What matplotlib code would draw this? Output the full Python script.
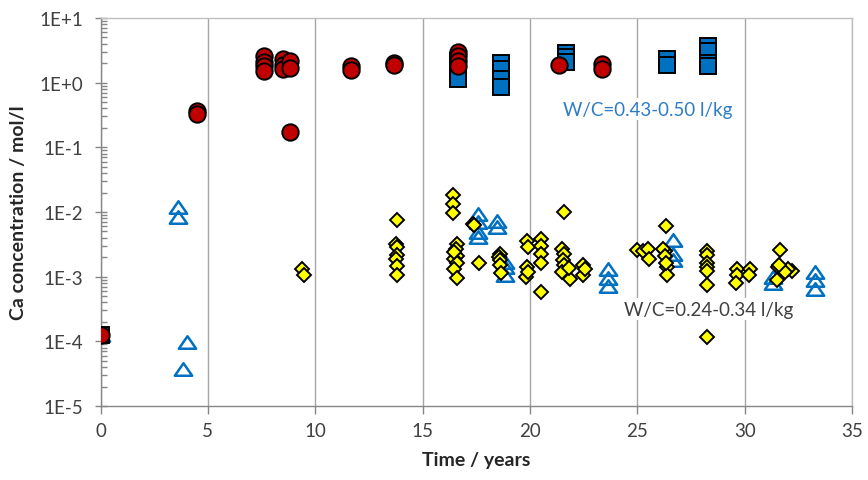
import matplotlib
matplotlib.use("Agg")
import matplotlib.pyplot as plt
from matplotlib.path import Path
from matplotlib.ticker import FixedLocator, LogLocator, NullFormatter

plt.rcParams['font.family'] = ['Lato', 'DejaVu Sans']

# W/C = 0.43-0.50 l/kg : red circles
circ_t = [0, 4.49, 4.49, 7.62, 7.62, 7.62, 7.62, 8.5, 8.5, 8.5, 8.83, 8.83, 8.83,
          11.67, 11.67, 13.66, 13.66, 16.65, 16.65, 16.65, 16.65, 21.35, 23.34, 23.34]
circ_c = [1.25e-4, 0.37, 0.33, 2.6, 2.1, 1.8, 1.5, 2.3, 1.9, 1.6, 2.2, 1.7, 0.173,
          1.8, 1.57, 2.0, 1.87, 3.0, 2.6, 2.2, 1.8, 1.9, 1.95, 1.6]

# W/C = 0.43-0.50 l/kg : blue squares
sq_t = [0, 16.65, 16.65, 16.65, 18.65, 18.65, 18.65, 18.65, 21.67, 21.67, 21.67,
        26.4, 26.4, 28.3, 28.3, 28.3, 28.3]
sq_c = [1.25e-4, 2.2, 1.5, 1.15, 2.05, 1.6, 1.15, 0.87, 2.9, 2.5, 2.1,
        2.3, 1.9, 3.7, 3.1, 2.05, 1.8]

# W/C = 0.24-0.34 l/kg : yellow diamonds
dia_t = [0, 9.37, 9.48,
         13.8, 13.75, 13.8, 13.8, 13.75, 13.8, 13.8,
         16.42, 16.42, 16.42,
         16.6, 16.55, 16.6, 16.45, 16.6, 16.45, 16.6, 16.45,
         17.33, 17.4, 17.64,
         18.6, 18.55, 18.6, 18.6, 18.65,
         19.85, 19.9, 19.85, 19.8, 19.9,
         20.5, 20.5, 20.5, 20.5, 20.5,
         21.6,
         21.5, 21.6, 21.55, 21.6, 21.5, 21.87, 21.8,
         22.49, 22.49, 22.57,
         24.97, 25.27, 25.5, 25.56,
         26.34, 26.3, 26.2, 26.3, 26.37, 26.37, 26.35,
         28.23, 28.23, 28.23, 28.23, 28.23, 28.23, 28.23,
         29.63, 29.63, 29.6,
         30.25, 30.2,
         31.65, 31.55, 31.5, 32.2, 32.04, 31.9, 31.6]
dia_c = [1.25e-4, 1.31e-3, 1.06e-3,
         7.5e-3, 3.2e-3, 2.9e-3, 2.2e-3, 1.85e-3, 1.48e-3, 1.06e-3,
         0.0183, 0.0133, 9.5e-3,
         3.2e-3, 2.7e-3, 2.1e-3, 1.85e-3, 1.6e-3, 1.3e-3, 9.5e-4, 2.4e-3,
         6.5e-3, 6.2e-3, 1.6e-3,
         2.25e-3, 2.0e-3, 1.8e-3, 1.5e-3, 1.16e-3,
         3.6e-3, 2.9e-3, 1.4e-3, 9.8e-4, 1.2e-3,
         3.8e-3, 3.0e-3, 2.25e-3, 1.6e-3, 5.9e-4,
         9.9e-3,
         2.7e-3, 2.25e-3, 1.8e-3, 1.5e-3, 1.2e-3, 9.2e-4, 1.35e-3,
         1.5e-3, 1.06e-3, 1.3e-3,
         2.6e-3, 2.5e-3, 2.7e-3, 1.85e-3,
         6.15e-3, 2.5e-3, 2.7e-3, 2.1e-3, 1.4e-3, 1.05e-3, 1.6e-3,
         2.5e-3, 2.2e-3, 1.6e-3, 1.4e-3, 1.23e-3, 7.4e-4, 1.17e-4,
         1.3e-3, 1.05e-3, 8.0e-4,
         1.3e-3, 1.05e-3,
         2.6e-3, 1.4e-3, 8.9e-4, 1.23e-3, 1.3e-3, 1.2e-3, 1.5e-3]

# W/C = 0.24-0.34 l/kg : open blue triangles
tri_t = [0, 3.63, 3.63, 4.01, 3.86,
         17.6, 17.6, 17.6, 17.6, 18.45, 18.45, 18.84, 18.84, 18.84,
         23.65, 23.65, 23.65,
         26.68, 26.68, 26.68,
         31.34, 31.34,
         33.28, 33.28, 33.28]
tri_c = [1.25e-4, 0.0118, 8.3e-3, 9.7e-5, 3.7e-5,
         9.3e-3, 7.0e-3, 4.9e-3, 4.1e-3, 7.3e-3, 5.8e-3, 1.7e-3, 1.4e-3, 1.05e-3,
         1.3e-3, 9.5e-4, 7.2e-4,
         3.7e-3, 2.25e-3, 1.8e-3,
         1.0e-3, 8.0e-4,
         1.2e-3, 9.0e-4, 6.4e-4]

y_ticks = [1e-5, 1e-4, 1e-3, 1e-2, 1e-1, 1e0, 1e1]
y_tick_labels = ['1E-5', '1E-4', '1E-3', '1E-2', '1E-1', '1E+0', '1E+1']
x_ticks = [0, 5, 10, 15, 20, 25, 30, 35]

RED = '#C00000'
BLUE = '#0070C0'
YELLOW = '#FFFF00'
GRID = '#A6A6A6'
TXT = '#404040'

fig = plt.figure(figsize=(8.68, 4.81), dpi=100)
ax = fig.add_axes([0.1158, 0.1538, 0.8658, 0.8067])

# wide, squat triangle marker
wide_tri = Path([(0, 0.72), (-1, -0.72), (1, -0.72), (0, 0.72)],
                [Path.MOVETO, Path.LINETO, Path.LINETO, Path.CLOSEPOLY])

ax.plot(tri_t, tri_c, linestyle='none', marker=wide_tri, markersize=12.5,
        markerfacecolor='none', markeredgecolor=BLUE, markeredgewidth=1.8, zorder=3)
ax.plot(dia_t, dia_c, linestyle='none', marker='D', markersize=7.2,
        markerfacecolor=YELLOW, markeredgecolor='black', markeredgewidth=1.4, zorder=4)
ax.plot(sq_t, sq_c, linestyle='none', marker='s', markersize=11,
        markerfacecolor=BLUE, markeredgecolor='black', markeredgewidth=1.4, zorder=5)
ax.plot(circ_t, circ_c, linestyle='none', marker='o', markersize=11.8,
        markerfacecolor=RED, markeredgecolor='black', markeredgewidth=1.4, zorder=6)

ax.set_yscale('log')
ax.set_ylim(1e-5, 1e1)
ax.set_xlim(0, 35)

ax.yaxis.set_major_locator(FixedLocator(y_ticks))
ax.set_yticklabels(y_tick_labels)
ax.yaxis.set_minor_locator(LogLocator(base=10, subs=range(2, 10)))
ax.yaxis.set_minor_formatter(NullFormatter())
ax.set_xticks(x_ticks)
ax.set_xticklabels([str(v) for v in x_ticks])

ax.tick_params(axis='y', which='major', direction='inout', length=8.6, width=1,
               color='#868686', labelsize=13.5, labelcolor=TXT, pad=8)
ax.tick_params(axis='y', which='minor', direction='in', length=4.3, width=1,
               color='#868686')
ax.tick_params(axis='x', which='major', direction='out', length=5.8, width=1,
               color='#868686', labelsize=13.5, labelcolor=TXT, pad=6)

ax.grid(True, axis='x', color=GRID, linewidth=1)
ax.set_axisbelow(True)
for side in ['left', 'bottom']:
    ax.spines[side].set_color('#868686')
    ax.spines[side].set_linewidth(1)
for side in ['top', 'right']:
    ax.spines[side].set_color('#BFBFBF')
    ax.spines[side].set_linewidth(1)

ax.set_xlabel('Time / years', fontsize=14, fontweight='bold', color='#262626', labelpad=8)
ax.set_ylabel('Ca concentration / mol/l', fontsize=14, fontweight='bold', color='#262626',
              labelpad=9)

ax.text(25.48, 0.39, 'W/C=0.43-0.50 l/kg', fontsize=13.5, color='#2E7CC6',
        ha='center', va='center', zorder=7,
        bbox=dict(facecolor='white', edgecolor='none', pad=2))
ax.text(28.3, 3.16e-4, 'W/C=0.24-0.34 l/kg', fontsize=13.5, color=TXT,
        ha='center', va='center', zorder=2.5,
        bbox=dict(facecolor='white', edgecolor='none', pad=2))

fig.savefig('out.png', dpi=100)
